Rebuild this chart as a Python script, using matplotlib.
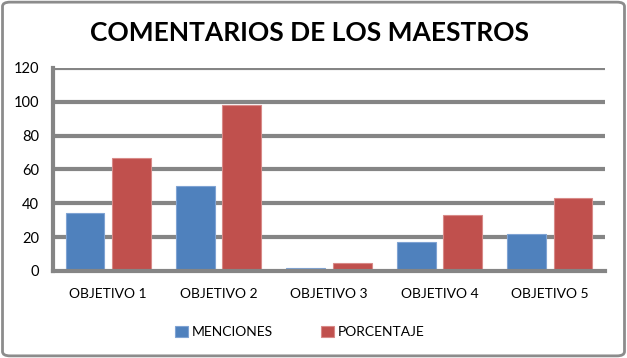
import matplotlib
matplotlib.use("Agg")
import matplotlib.pyplot as plt
import numpy as np
from matplotlib.patches import FancyBboxPatch

categories = ["OBJETIVO 1", "OBJETIVO 2", "OBJETIVO 3", "OBJETIVO 4", "OBJETIVO 5"]
menciones = [34, 50, 2, 17, 22]
porcentaje = [67, 98, 5, 33, 43]
yticks = [0, 20, 40, 60, 80, 100, 120]

plt.rcParams['font.family'] = ['Lato', 'DejaVu Sans']

fig = plt.figure(figsize=(6.27, 3.58), dpi=100)
ax = fig.add_axes([53/627, 87/358, (605-53)/627, (271-68)/358])

x = np.arange(len(categories))
w = 0.35
off = 0.21
gray = "#858585"
ax.bar(x - off, menciones, w, color="#4F81BD", edgecolor="#7FA3D3", linewidth=0.8, label="MENCIONES", zorder=3)
ax.bar(x + off, porcentaje, w, color="#C0504D", edgecolor="#D88A88", linewidth=0.8, label="PORCENTAJE", zorder=3)

ax.set_xlim(-0.5, len(categories) - 0.5)
ax.set_ylim(0, 120)
ax.set_yticks(yticks)
ax.set_yticklabels([str(v) for v in yticks], fontsize=10.5)
ax.set_xticks(x)
ax.set_xticklabels(categories, fontsize=10)
ax.tick_params(length=0, pad=10)
ax.tick_params(axis='x', pad=12)
for v in yticks[1:]:
    ax.axhline(v, color=gray, lw=3, zorder=1)
for s in ["top", "right"]:
    ax.spines[s].set_visible(False)
for s in ["left", "bottom"]:
    ax.spines[s].set_color(gray)
    ax.spines[s].set_linewidth(3)
    ax.spines[s].set_zorder(4)

fig.text(309/627, 1 - 33/358, "COMENTARIOS DE LOS MAESTROS", ha="center", va="center",
         fontsize=19, fontweight="bold")

leg = fig.legend(loc="center", bbox_to_anchor=(300/627, 1 - 332/358), ncol=2, frameon=False,
                 fontsize=10, handlelength=0.9, handleheight=0.9, handletextpad=0.3, columnspacing=3.5)

border = FancyBboxPatch((0.004, 0.006), 0.992, 0.988, boxstyle="round,pad=0,rounding_size=0.012",
                        transform=fig.transFigure, fill=False, edgecolor="#8c8c8c", lw=2)
fig.patches.append(border)

fig.savefig("out.png", dpi=100)
